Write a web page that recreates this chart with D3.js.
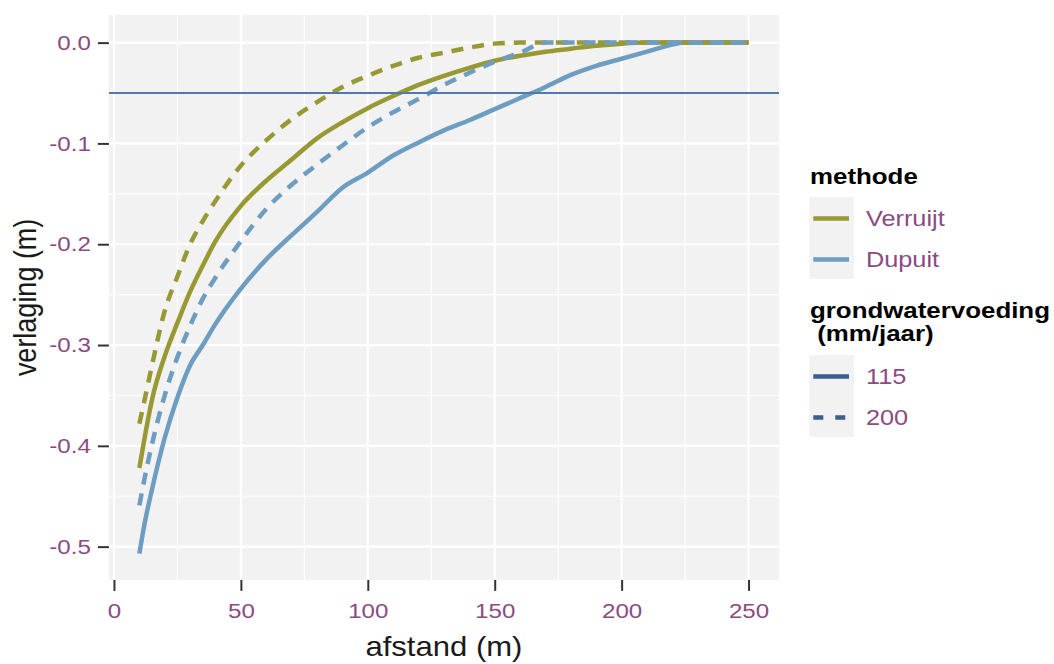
<!DOCTYPE html>
<html>
<head>
    <meta charset="utf-8" />
    <style>
        body { margin: 0; background: #fff; }
        svg { display: block; font-family: "Liberation Sans", Arial, sans-serif; }
        .tick text { fill: #8b4b82; font-size: 21px; }
        .tick line { stroke: #333; stroke-width: 2; }
        .axis-title { fill: #1a1a1a; font-size: 27px; }
        .legend-title { fill: #000; font-size: 22.5px; font-weight: bold; white-space: pre; }
        .legend-label { fill: #8b4b82; font-size: 22px; }
    </style>
</head>
<body>
<div id="chart"></div>
<script src="https://d3js.org/d3.v7.min.js"></script>
<script>
    // afstand (m) and verlaging (m)
    var afstand = [10, 12, 15, 20, 25, 30, 35, 40, 50, 60, 70, 80, 90, 100, 110, 120, 130, 140, 150,
        160, 170, 180, 190, 200, 210, 220, 225, 230, 240, 250];
    var verruijt115 = [-0.422, -0.393, -0.354, -0.311, -0.278, -0.247, -0.221, -0.197, -0.162, -0.137,
        -0.116, -0.095, -0.079, -0.065, -0.053, -0.042, -0.033, -0.025, -0.018, -0.013,
        -0.009, -0.006, -0.003, -0.001, 0, 0, 0, 0, 0, 0];
    var verruijt200 = [-0.378, -0.355, -0.320, -0.266, -0.232, -0.200, -0.177, -0.157, -0.122, -0.097,
        -0.076, -0.059, -0.044, -0.033, -0.023, -0.015, -0.010, -0.005, -0.001, 0,
        0, 0, 0, 0, 0, 0, 0, 0, 0, 0];
    var dupuit115 = [-0.507, -0.478, -0.443, -0.392, -0.352, -0.320, -0.300, -0.279, -0.244, -0.215,
        -0.191, -0.168, -0.144, -0.129, -0.112, -0.099, -0.087, -0.077, -0.066, -0.055,
        -0.044, -0.032, -0.023, -0.016, -0.009, -0.002, 0, 0, 0, 0];
    var dupuit200 = [-0.459, -0.433, -0.398, -0.350, -0.312, -0.281, -0.254, -0.233, -0.197, -0.165,
        -0.141, -0.121, -0.102, -0.084, -0.069, -0.056, -0.042, -0.030, -0.019, -0.010,
        0, 0, 0, 0, 0, 0, 0, 0, 0, 0];

    var methodes = ['Verruijt', 'Dupuit'];
    var voedingen = ['115', '200'];
    var xTicks = [0, 50, 100, 150, 200, 250];
    var yTicks = [0, -0.1, -0.2, -0.3, -0.4, -0.5];
    var drempel = -0.05;

    var width = 1054;
    var height = 664;
    var panel = { left: 108.9, right: 779, top: 14.9, bottom: 579.9 };
    var S = 1.15; // text in the picture is drawn a bit wide

    var x = d3.scaleLinear().domain([-2, 262]).range([panel.left, panel.right]);
    var y = d3.scaleLinear().domain([-0.533, 0.0275]).range([panel.bottom, panel.top]);

    var color = d3.scaleOrdinal().domain(methodes).range(['#999933', '#6d9dc0']);
    var dash = d3.scaleOrdinal().domain(voedingen).range(['none', '12,9']);

    var series = [
        { methode: 'Verruijt', voeding: '115', values: verruijt115 },
        { methode: 'Dupuit', voeding: '115', values: dupuit115 },
        { methode: 'Verruijt', voeding: '200', values: verruijt200 },
        { methode: 'Dupuit', voeding: '200', values: dupuit200 }
    ];

    function stretch(sel) {
        sel.each(function() {
            var t = d3.select(this);
            var tx = +t.attr('x') || 0, ty = +t.attr('y') || 0;
            t.attr('x', 0).attr('y', 0)
                .attr('transform', 'translate(' + tx + ',' + ty + ') scale(' + S + ',1)');
        });
    }

    var svg = d3.select('#chart')
        .append('svg')
        .attr('width', width)
        .attr('height', height);

    svg.append('rect')
        .attr('x', panel.left)
        .attr('y', panel.top)
        .attr('width', panel.right - panel.left)
        .attr('height', panel.bottom - panel.top)
        .attr('fill', '#f2f2f2');

    // grid
    var xMinor = d3.range(25, 250, 50);
    var yMinor = d3.range(-0.45, 0, 0.1);
    var grid = svg.append('g').attr('stroke', '#fff');
    grid.selectAll('.xmin').data(xMinor).enter().append('line')
        .attr('x1', x).attr('x2', x).attr('y1', panel.top).attr('y2', panel.bottom)
        .attr('stroke-width', 1.1);
    grid.selectAll('.ymin').data(yMinor).enter().append('line')
        .attr('y1', y).attr('y2', y).attr('x1', panel.left).attr('x2', panel.right)
        .attr('stroke-width', 1.1);
    grid.selectAll('.xmaj').data(xTicks).enter().append('line')
        .attr('x1', x).attr('x2', x).attr('y1', panel.top).attr('y2', panel.bottom)
        .attr('stroke-width', 2.2);
    grid.selectAll('.ymaj').data(yTicks).enter().append('line')
        .attr('y1', y).attr('y2', y).attr('x1', panel.left).attr('x2', panel.right)
        .attr('stroke-width', 2.2);

    // curves
    var line = d3.line()
        .x(function(d, i) { return x(afstand[i]); })
        .y(function(d) { return y(d); })
        .curve(d3.curveMonotoneX);

    svg.selectAll('.curve')
        .data(series)
        .enter()
        .append('path')
        .attr('class', 'curve')
        .attr('d', function(d) { return line(d.values); })
        .attr('fill', 'none')
        .attr('stroke', function(d) { return color(d.methode); })
        .attr('stroke-dasharray', function(d) { return dash(d.voeding); })
        .attr('stroke-width', 4.5);

    svg.append('line')
        .attr('x1', panel.left).attr('x2', panel.right)
        .attr('y1', y(drempel)).attr('y2', y(drempel))
        .attr('stroke', '#5079ad')
        .attr('stroke-width', 2);

    // axes
    var xAxis = svg.append('g')
        .attr('transform', 'translate(0,' + panel.bottom + ')')
        .call(d3.axisBottom(x).tickValues(xTicks).tickSize(11).tickPadding(12)
            .tickFormat(function(d) { return String(d); }));
    xAxis.select('.domain').remove();
    stretch(xAxis.selectAll('text'));

    var yAxis = svg.append('g')
        .attr('transform', 'translate(' + panel.left + ',0)')
        .call(d3.axisLeft(y).tickValues(yTicks).tickSize(11).tickPadding(7)
            .tickFormat(function(d) { return d.toFixed(1); }));
    yAxis.select('.domain').remove();
    stretch(yAxis.selectAll('text'));

    svg.append('text')
        .attr('class', 'axis-title')
        .attr('text-anchor', 'middle')
        .attr('transform', 'translate(' + ((panel.left + panel.right) / 2) + ',656) scale(' + S + ',1)')
        .text('afstand (m)');

    svg.append('text')
        .attr('class', 'axis-title')
        .attr('text-anchor', 'middle')
        .attr('transform', 'translate(36,' + ((panel.top + panel.bottom) / 2) + ') rotate(-90) scale(1,' + S + ')')
        .text('verlaging (m)');

    // legend
    var keyX = 809.3, keyW = 44.7, keyH = 41;

    function legendBlock(titles, titleY, keyY, items, keyStyle) {
        var g = svg.append('g');
        titles.forEach(function(t, i) {
            g.append('text')
                .attr('class', 'legend-title')
                .attr('x', 810)
                .attr('y', titleY + i * 23)
                .text(t);
        });
        var rows = g.selectAll('.row')
            .data(items)
            .enter()
            .append('g')
            .attr('transform', function(d, i) { return 'translate(0,' + (keyY + i * keyH) + ')'; });
        rows.append('rect')
            .attr('x', keyX).attr('width', keyW).attr('height', keyH)
            .attr('fill', '#f2f2f2');
        rows.append('line')
            .attr('x1', keyX + 4).attr('x2', keyX + keyW - 5)
            .attr('y1', keyH / 2 + 1).attr('y2', keyH / 2 + 1)
            .attr('stroke-width', 4.5)
            .each(function(d) { keyStyle(d3.select(this), d); });
        rows.append('text')
            .attr('class', 'legend-label')
            .attr('x', 866)
            .attr('y', keyH / 2 + 1)
            .attr('dy', '0.35em')
            .text(function(d) { return d; });
        stretch(g.selectAll('text'));
    }

    legendBlock(['methode'], 184, 197, methodes, function(l, d) {
        l.attr('stroke', color(d));
    });
    legendBlock(['grondwatervoeding', ' (mm/jaar)'], 318, 355, voedingen, function(l, d) {
        l.attr('stroke', '#3a5e8f').attr('stroke-dasharray', d === '200' ? '10,12' : null);
    });
</script>
</body>
</html>
